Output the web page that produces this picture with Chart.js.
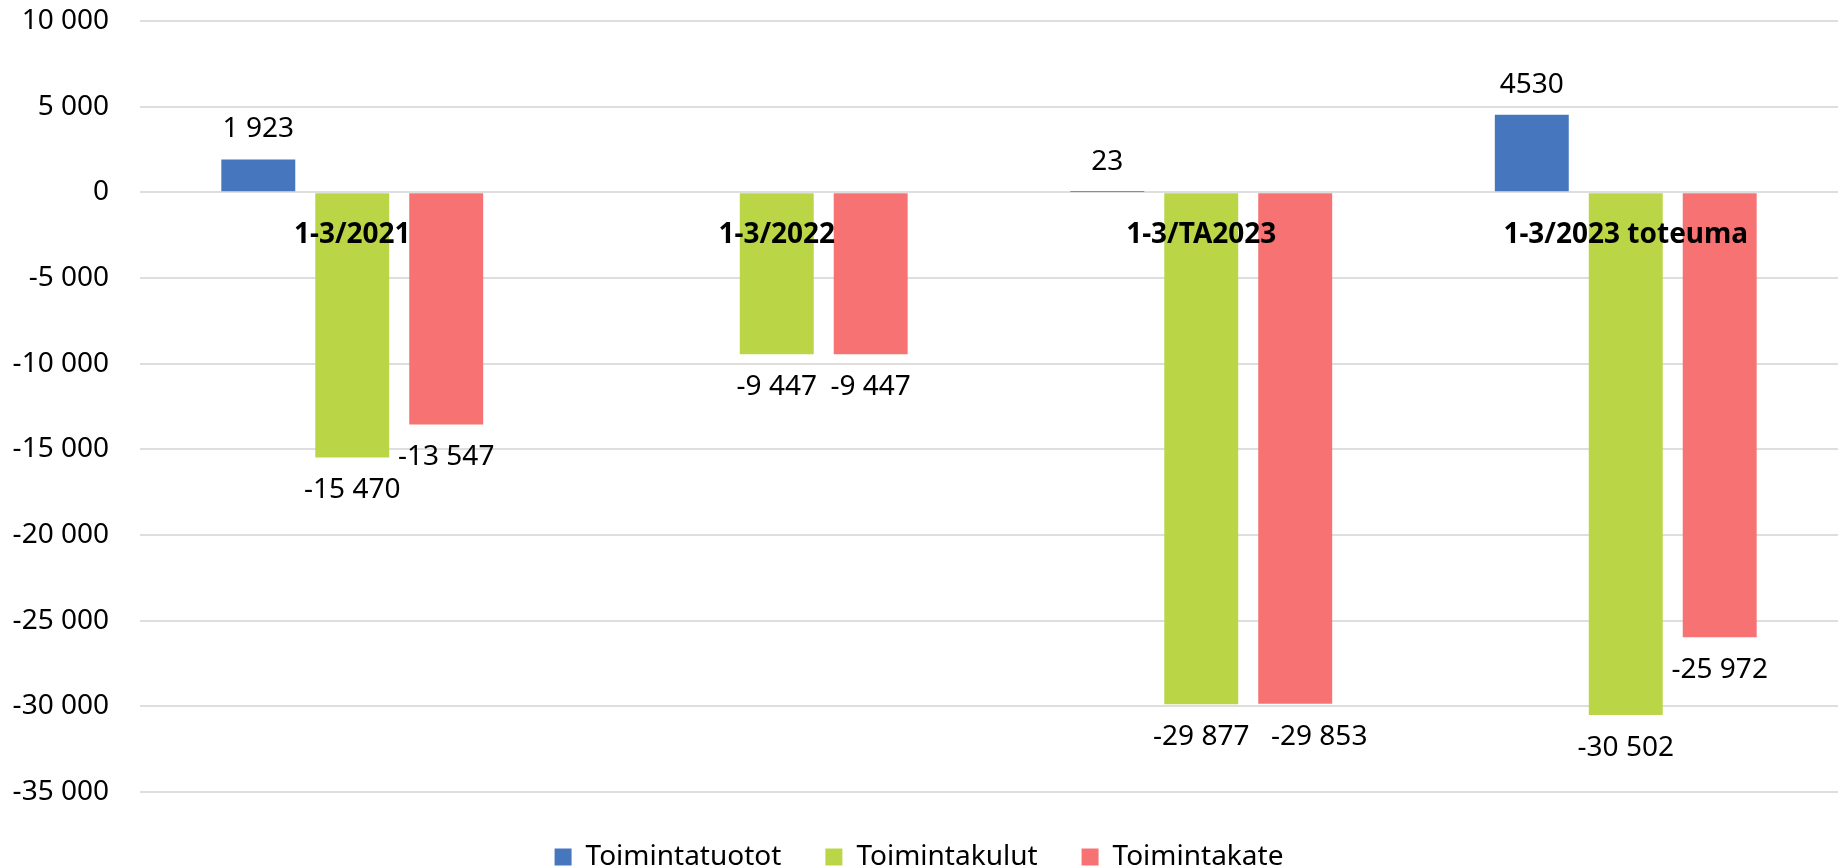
<!DOCTYPE html>
<html>
<head>
<meta charset="utf-8">
<script src="https://cdn.jsdelivr.net/npm/chart.js@4/dist/chart.umd.min.js"></script>
<style>
  body { margin: 0; background: #fff; }
  #wrap { width: 1842px; height: 866px; }
</style>
</head>
<body>
<div id="wrap"><canvas id="myChart"></canvas></div>
<script>
const categories = ['1-3/2021', '1-3/2022', '1-3/TA2023', '1-3/2023 toteuma'];
const tuotot = [1923, null, 23, 4530];
const tuototLabels = ['1 923', null, '23', '4530'];
const kulut = [-15470, -9447, -29877, -30502];
const kate = [-13547, -9447, -29853, -25972];
const yMin = -35000;
const yMax = 10000;
const yStep = 5000;

function fmt(v) {
    const s = String(Math.abs(v)).replace(/\B(?=(\d{3})+(?!\d))/g, ' ');
    return (v < 0 ? '-' : '') + s;
}

Chart.defaults.font.family = "'Noto Sans', sans-serif";
Chart.defaults.font.size = 28;
Chart.defaults.color = '#000';

// value labels at bar ends + category names on the zero line
const labelPlugin = {
    id: 'barLabels',
    afterDatasetsDraw(chart) {
        const ctx = chart.ctx;
        ctx.save();
        ctx.fillStyle = '#000';
        ctx.textAlign = 'center';
        ctx.textBaseline = 'middle';
        ctx.font = "28px 'Noto Sans', sans-serif";
        chart.data.datasets.forEach((ds, i) => {
            const meta = chart.getDatasetMeta(i);
            meta.data.forEach((bar, j) => {
                const v = ds.data[j];
                if (v === null) return;
                const text = ds.labelTexts ? ds.labelTexts[j] : fmt(v);
                const dx = ds.labelShift ? ds.labelShift[j] : 0;
                const y = v >= 0 ? bar.y - 30 : bar.y + 33;
                ctx.fillText(text, bar.x + dx, y);
            });
        });
        const xs = chart.scales.x;
        const y0 = chart.scales.y.getPixelForValue(0);
        ctx.font = "bold 28px 'Noto Sans', sans-serif";
        categories.forEach((c, i) => {
            ctx.fillText(c, xs.getPixelForValue(i), y0 + 43);
        });
        ctx.restore();
    }
};

const ctx = document.getElementById('myChart').getContext('2d');
new Chart(ctx, {
    type: 'bar',
    data: {
        labels: categories,
        datasets: [{
            label: 'Toimintatuotot',
            data: tuotot,
            labelTexts: tuototLabels,
            backgroundColor: '#4677BE'
        },
        {
            label: 'Toimintakulut',
            data: kulut,
            backgroundColor: '#BAD647'
        },
        {
            label: 'Toimintakate',
            data: kate,
            labelShift: [0, 0, 24, 0],
            backgroundColor: '#F77373'
        }]
    },
    options: {
        responsive: true,
        maintainAspectRatio: false,
        devicePixelRatio: 1,
        animation: false,
        datasets: {
            bar: {
                categoryPercentage: 0.664,
                barPercentage: 0.787,
                borderWidth: 0
            }
        },
        layout: {
            padding: { top: 21, right: 4, bottom: -15, left: 0 }
        },
        plugins: {
            legend: {
                position: 'bottom',
                labels: {
                    boxWidth: 17,
                    boxHeight: 17,
                    padding: 44,
                    font: { size: 28 }
                }
            },
            tooltip: { enabled: false }
        },
        scales: {
            x: {
                grid: { display: false },
                border: { display: false },
                ticks: { display: false },
                afterFit: (axis) => { axis.height = 7; }
            },
            y: {
                min: yMin,
                max: yMax,
                ticks: {
                    stepSize: yStep,
                    padding: 31,
                    callback: (v) => fmt(v)
                },
                grid: {
                    color: '#dedede',
                    lineWidth: 2,
                    drawTicks: false
                },
                border: { display: false },
                afterFit: (axis) => {
                    axis.width = 140;
                    axis.paddingTop = 17;
                    axis.paddingBottom = 17;
                }
            }
        }
    },
    plugins: [labelPlugin]
});
</script>
</body>
</html>
